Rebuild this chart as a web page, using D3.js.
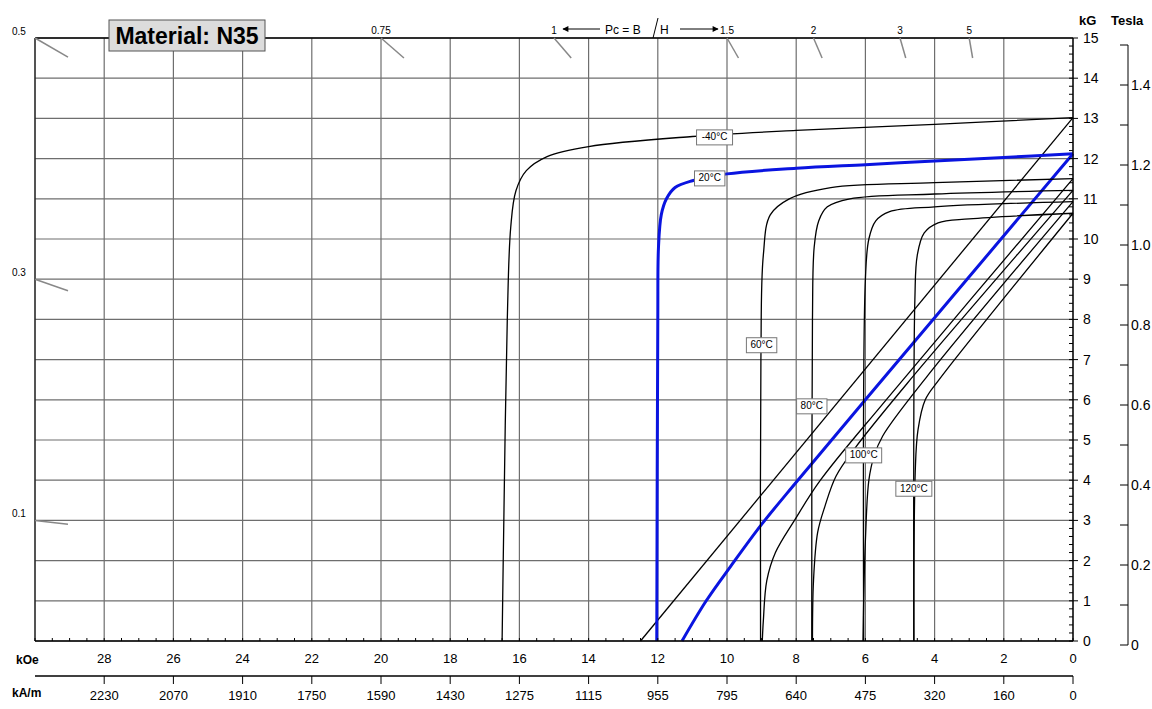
<!DOCTYPE html>
<html><head><meta charset="utf-8">
<script src="https://cdn.jsdelivr.net/npm/d3@7"></script>
<style>body{margin:0;background:#fff}text{font-family:"Liberation Sans",Arial,sans-serif}</style>
</head><body><svg id="c" width="1152" height="709"></svg>
<script>
const kOeTicks=[28,26,24,22,20,18,16,14,12,10,8,6,4,2,0];
const kAmTicks=["2230","2070","1910","1750","1590","1430","1275","1115","955","795","640","475","320","160","0"];
const kGTicks=d3.range(0,16);
const teslaTicks=[0,0.2,0.4,0.6,0.8,1.0,1.2,1.4];
const pcTop=[0.75,1,1.5,2,3,5];
const pcLeft=[0.5,0.3,0.1];
const temps=["-40°C","20°C","60°C","80°C","100°C","120°C"];
const labelPos=[[10.36,12.54],[10.5,11.52],[9.0,7.37],[7.55,5.85],[6.05,4.63],[4.6,3.8]];
const J_m40=[[0,13.02],[4,12.85],[8,12.7],[11,12.55],[14,12.3],[15.2,12.05],[15.8,11.7],[16.1,11.2],[16.25,10.3],[16.35,8],[16.45,3],[16.5,0]];
const B_m40=[[0,13.02],[12.5,0]];
const J_20=[[0,12.12],[2,12.03],[4,11.94],[6,11.85],[8,11.76],[10,11.62],[11,11.45],[11.5,11.28],[11.75,11.0],[11.9,10.6],[11.98,9.8],[12.0,8],[12.03,0]];
const B_20=[[0,12.12],[6.0,6],[8.0,3.95],[9.0,2.9],[9.9,1.85],[10.6,1.0],[11.3,0]];
const J_60=[[0,11.5],[4,11.4],[7,11.28],[8.2,11.0],[8.75,10.6],[8.95,9.6],[9.02,7],[9.03,0]];
const B_60=[[0,11.5],[5.4,6],[7.3,4],[8.05,3],[8.6,2.2],[8.85,1.5],[8.95,0.5],[8.98,0]];
const J_80=[[0,11.21],[4,11.12],[6.45,11.0],[7.1,10.8],[7.35,10.45],[7.48,9.8],[7.53,8],[7.55,0]];
const B_80=[[0,11.21],[4.8,6.4],[6.3,4.8],[6.85,4.1],[7.17,3.35],[7.38,2.7],[7.5,1.5],[7.53,0]];
const J_100=[[0,10.93],[4,10.8],[5.3,10.68],[5.7,10.45],[5.9,10.0],[6.0,9.0],[6.05,0]];
const B_100=[[0,10.93],[4.2,6.6],[5.5,5.1],[5.75,4.6],[5.9,4.0],[6.0,2.5],[6.05,1],[6.07,0]];
const J_120=[[0,10.64],[3,10.5],[3.9,10.4],[4.3,10.15],[4.5,9.6],[4.57,8.5],[4.6,0]];
const B_120=[[0,10.64],[3.87,6.5],[4.27,6.0],[4.48,5.25],[4.56,4.2],[4.6,0]];
const curves=[[J_m40,B_m40],[J_20,B_20],[J_60,B_60],[J_80,B_80],[J_100,B_100],[J_120,B_120]];

const svg=d3.select("#c");
const x=d3.scaleLinear().domain([30,0]).range([35,1073]);
const y=d3.scaleLinear().domain([0,15]).range([641,38]);
const yT=d3.scaleLinear().domain([0,1.5]).range([645,45]);
const grid="#6e6e6e";
svg.append("g").selectAll("line").data(d3.range(0,31,2)).join("line")
 .attr("x1",d=>x(d)).attr("x2",d=>x(d)).attr("y1",y(0)).attr("y2",y(15)).attr("stroke",grid).attr("stroke-width",1.2);
svg.append("g").selectAll("line").data(kGTicks).join("line")
 .attr("x1",x(30)).attr("x2",x(0)).attr("y1",d=>y(d)).attr("y2",d=>y(d)).attr("stroke",grid).attr("stroke-width",1.2);
svg.append("line").attr("x1",x(30)).attr("x2",x(0)).attr("y1",y(15)).attr("y2",y(15)).attr("stroke","#000").attr("stroke-width",1.5);
svg.append("line").attr("x1",x(30)).attr("x2",x(30)).attr("y1",y(15)).attr("y2",y(0)).attr("stroke","#000");
function pcMark(px,py){const dx=x(0)-px,dy=y(0)-py,t=Math.min(33/dx,20/dy);
 svg.append("line").attr("x1",px).attr("y1",py).attr("x2",px+dx*t).attr("y2",py+dy*t).attr("stroke","#888").attr("stroke-width",1.5);}
pcTop.forEach(p=>{const H=15/p;pcMark(x(H),y(15));
 svg.append("text").attr("x",x(H)).attr("y",y(15)-4).attr("font-size",10).attr("text-anchor","middle").text(p);});
pcLeft.forEach(p=>{const B=30*p;pcMark(x(30),y(B));
 svg.append("text").attr("x",12).attr("y",y(B)-3).attr("font-size",10).text(p);});
svg.append("text").attr("x",605).attr("y",34).attr("font-size",12).text("Pc = B");
svg.append("text").attr("x",660).attr("y",34).attr("font-size",12).text("H");
svg.append("line").attr("x1",653).attr("y1",38).attr("x2",658).attr("y2",18).attr("stroke","#000");
svg.append("defs").append("marker").attr("id","ar").attr("viewBox","0 0 10 10").attr("refX",9).attr("refY",5)
 .attr("markerWidth",8).attr("markerHeight",6).attr("orient","auto-start-reverse").append("path").attr("d","M0,0L10,5L0,10z");
svg.append("line").attr("x1",600).attr("y1",29).attr("x2",563).attr("y2",29).attr("stroke","#000").attr("marker-end","url(#ar)");
svg.append("line").attr("x1",680).attr("y1",29).attr("x2",718).attr("y2",29).attr("stroke","#000").attr("marker-end","url(#ar)");
svg.append("rect").attr("x",109).attr("y",20).attr("width",156).attr("height",31).attr("fill","#dcdcdc").attr("stroke","#555");
svg.append("text").attr("x",187).attr("y",44).attr("text-anchor","middle").attr("font-size",23).attr("font-weight","bold").text("Material: N35");
const lineB=d3.line().x(d=>x(d[0])).y(d=>y(d[1])).curve(d3.curveCatmullRom);
curves.forEach((c,i)=>{const blue=i===1;
 c.forEach(pts=>svg.append("path").attr("d",lineB(pts)).attr("fill","none")
  .attr("stroke",blue?"#0a14e0":"#000").attr("stroke-width",blue?3:1.3));});
temps.forEach((t,i)=>{const cx=x(labelPos[i][0]),cy=y(labelPos[i][1]);
 const g=svg.append("g");g.append("text").attr("x",cx).attr("y",cy+3.5).attr("font-size",10).attr("text-anchor","middle").text(t);
 const w=t.length*5.6+8;g.insert("rect","text").attr("x",cx-w/2).attr("y",cy-7).attr("width",w).attr("height",15).attr("fill","#fff").attr("stroke","#777");});
svg.append("line").attr("x1",x(0)).attr("x2",x(0)).attr("y1",y(0)).attr("y2",y(15)).attr("stroke","#000").attr("stroke-width",1.3);
svg.append("g").selectAll("line").data(d3.range(0,75).map(d=>d/5)).join("line")
 .attr("x1",x(0)-4).attr("x2",x(0)).attr("y1",d=>y(d)).attr("y2",d=>y(d)).attr("stroke","#000");
kGTicks.forEach(d=>{svg.append("line").attr("x1",x(0)).attr("x2",x(0)+5).attr("y1",y(d)).attr("y2",y(d)).attr("stroke","#000");
 svg.append("text").attr("x",x(0)+10).attr("y",y(d)+5).attr("font-size",14).text(d);});
svg.append("text").attr("x",1079).attr("y",25).attr("font-size",13).attr("font-weight","bold").text("kG");
svg.append("text").attr("x",1111).attr("y",25).attr("font-size",13).attr("font-weight","bold").text("Tesla");
svg.append("line").attr("x1",1128).attr("x2",1128).attr("y1",yT(0)).attr("y2",yT(1.5)).attr("stroke","#000");
d3.range(0,16).forEach(i=>{const t=i/10;svg.append("line").attr("x1",1120).attr("x2",1128).attr("y1",yT(t)).attr("y2",yT(t)).attr("stroke","#000");});
teslaTicks.forEach(t=>svg.append("text").attr("x",1131).attr("y",yT(t)+5).attr("font-size",14).text(t===0?"0":t.toFixed(1)));
svg.append("line").attr("x1",x(30)).attr("x2",x(0)).attr("y1",y(0)).attr("y2",y(0)).attr("stroke","#000").attr("stroke-width",1.5);
svg.append("g").selectAll("line").data(d3.range(0,61).map(d=>d/2)).join("line")
 .attr("x1",d=>x(d)).attr("x2",d=>x(d)).attr("y1",y(0)).attr("y2",y(0)-3).attr("stroke","#000");
kOeTicks.forEach(d=>svg.append("text").attr("x",x(d)).attr("y",663).attr("font-size",13).attr("text-anchor","middle").text(d));
svg.append("text").attr("x",16).attr("y",664).attr("font-size",12).attr("font-weight","bold").text("kOe");
svg.append("line").attr("x1",x(30)).attr("x2",x(0)).attr("y1",676).attr("y2",676).attr("stroke","#000").attr("stroke-width",1.3);
kOeTicks.forEach((d,i)=>{svg.append("line").attr("x1",x(d)).attr("x2",x(d)).attr("y1",676).attr("y2",684).attr("stroke","#000");
 svg.append("text").attr("x",x(d)).attr("y",700).attr("font-size",13).attr("text-anchor","middle").text(kAmTicks[i]);});
svg.append("text").attr("x",12).attr("y",697).attr("font-size",12).attr("font-weight","bold").text("kA/m");
</script></body></html>
